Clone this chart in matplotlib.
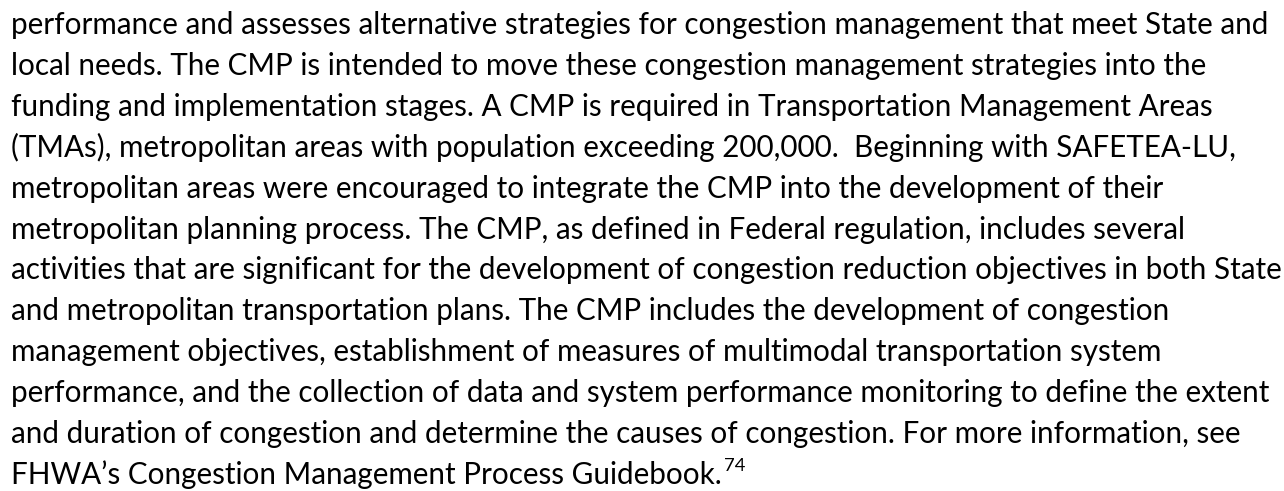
import matplotlib
matplotlib.use("Agg")
import matplotlib.pyplot as plt

# paragraph lines as they wrap in the source page
lines = [
    "performance and assesses alternative strategies for congestion management that meet State and",
    "local needs. The CMP is intended to move these congestion management strategies into the",
    "funding and implementation stages. A CMP is required in Transportation Management Areas",
    "(TMAs), metropolitan areas with population exceeding 200,000.  Beginning with SAFETEA-LU,",
    "metropolitan areas were encouraged to integrate the CMP into the development of their",
    "metropolitan planning process. The CMP, as defined in Federal regulation, includes several",
    "activities that are significant for the development of congestion reduction objectives in both State",
    "and metropolitan transportation plans. The CMP includes the development of congestion",
    "management objectives, establishment of measures of multimodal transportation system",
    "performance, and the collection of data and system performance monitoring to define the extent",
    "and duration of congestion and determine the causes of congestion. For more information, see",
    "FHWA\u2019s Congestion Management Process Guidebook.",
]
footnote = "74"

W, H = 1284, 491
fig = plt.figure(figsize=(W / 100, H / 100), dpi=100)
fig.patch.set_facecolor("white")

family = ["Lato", "DejaVu Sans"]
left = 11
first_base = 34
pitch = 40.9
target_w = 1261  # width of the first line in the reference

renderer = fig.canvas.get_renderer()
probe = fig.text(0, 0, lines[0], fontsize=20, family=family)
w20 = probe.get_window_extent(renderer).width
probe.remove()
size = 20 * target_w / w20

last = None
for i, s in enumerate(lines):
    base = first_base + i * pitch
    last = fig.text(left / W, 1 - base / H, s, fontsize=size, family=family,
                    color="black", ha="left", va="baseline")

bb = last.get_window_extent(renderer)
base = first_base + (len(lines) - 1) * pitch
fig.text((bb.x1 + 2) / W, 1 - (base - 13) / H, footnote, fontsize=size * 0.62,
         family=family, color="black", ha="left", va="baseline")

fig.savefig("out.png", dpi=100, facecolor="white")
